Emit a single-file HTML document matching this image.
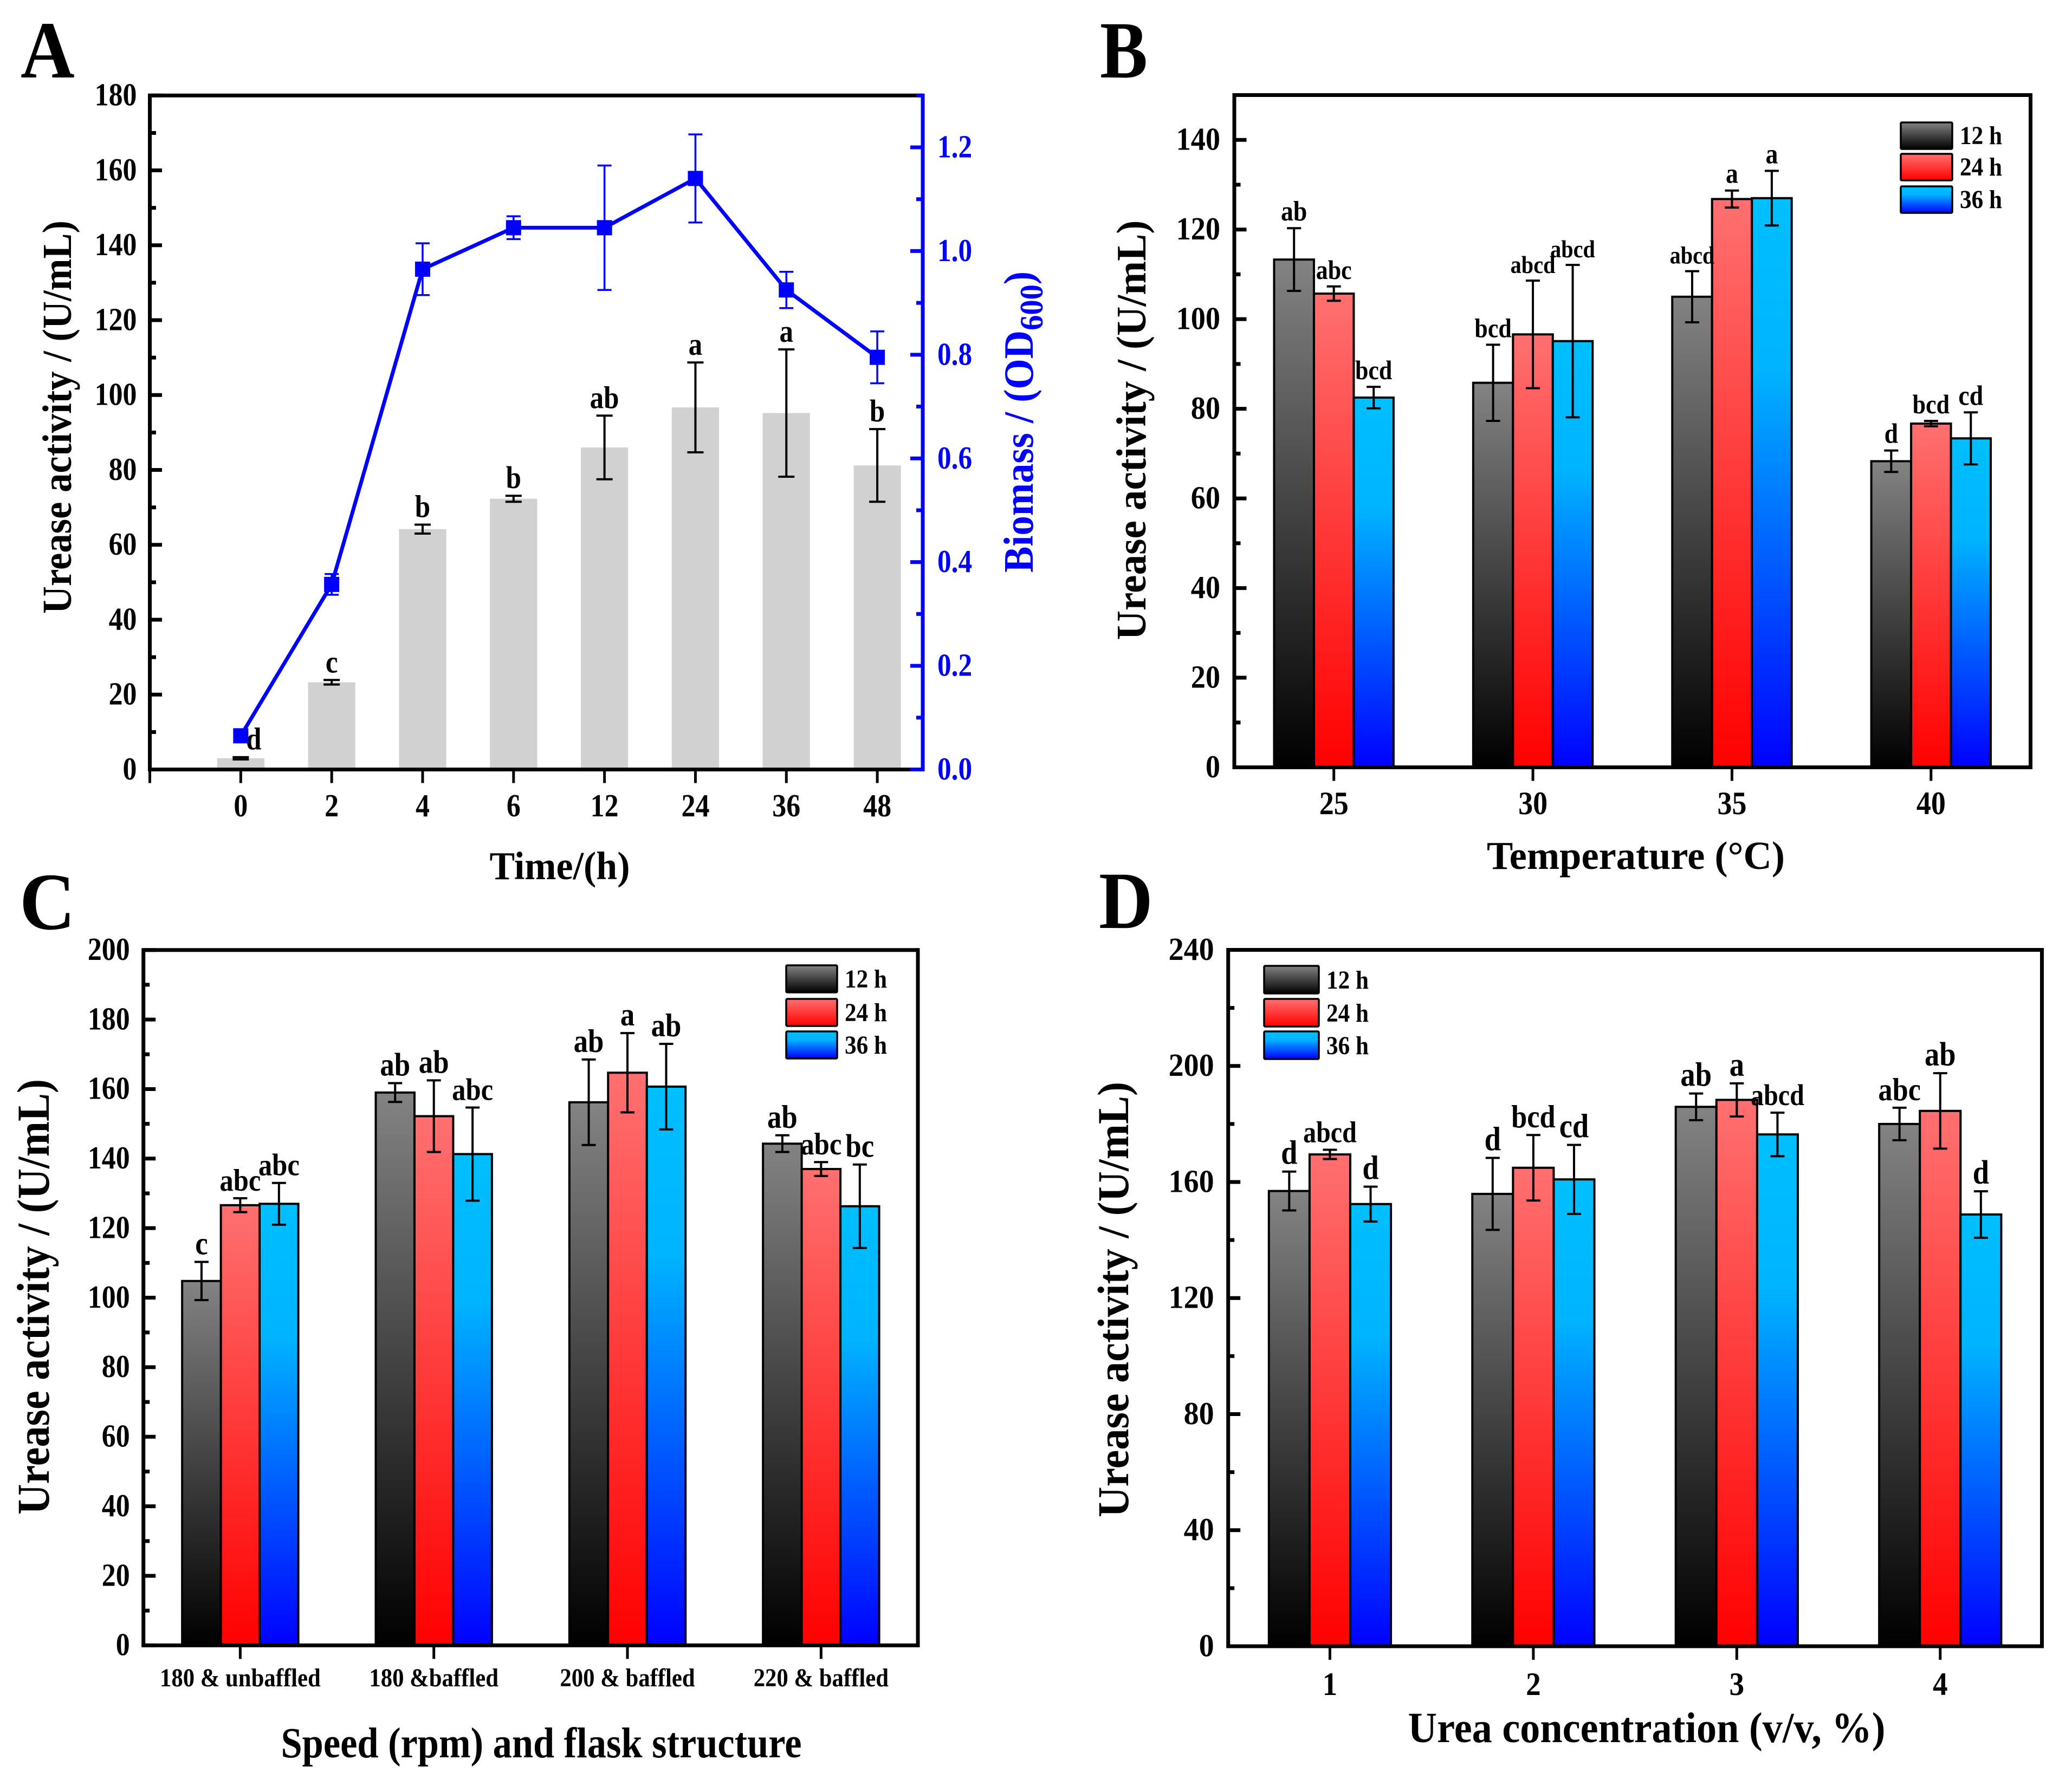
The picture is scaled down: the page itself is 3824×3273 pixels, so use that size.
<!DOCTYPE html>
<html lang="en">
<head>
<meta charset="utf-8">
<title>Urease activity and biomass charts</title>
<style>
html,body{margin:0;padding:0;background:#fff;}
svg{display:block;}
text{font-family:"Liberation Serif",serif;font-weight:bold;fill:#000;}
.blue{fill:#0000ff;}
</style>
</head>
<body>
<svg id="figure" xmlns="http://www.w3.org/2000/svg" width="3824" height="3273" viewBox="0 0 3824 3273">
<defs>
<linearGradient id="g12" x1="0" y1="0" x2="0" y2="1"><stop offset="0" stop-color="#838383"/><stop offset="1" stop-color="#000000"/></linearGradient>
<linearGradient id="g24" x1="0" y1="0" x2="0" y2="1"><stop offset="0" stop-color="#ff7070"/><stop offset="1" stop-color="#ff0000"/></linearGradient>
<linearGradient id="g36" x1="0" y1="0" x2="0" y2="1"><stop offset="0" stop-color="#00bfff"/><stop offset="0.3" stop-color="#00b4ff"/><stop offset="1" stop-color="#0000ff"/></linearGradient>
</defs>
<rect width="3824" height="3273" fill="#fff"/>

<g id="panel-a">
<text transform="translate(38,143) scale(0.92,1)" font-size="150">A</text>
<text transform="translate(131,770) rotate(-90)" text-anchor="middle" font-size="76" textLength="726" lengthAdjust="spacingAndGlyphs">Urease activity / (U/mL)</text>
<text x="1033" y="1623" text-anchor="middle" font-size="73" textLength="259" lengthAdjust="spacingAndGlyphs">Time/(h)</text>
<text class="blue" transform="translate(1906,779) rotate(-90)" text-anchor="middle" font-size="77" textLength="556" lengthAdjust="spacingAndGlyphs">Biomass / (OD<tspan font-size="60" dy="18">600</tspan><tspan dy="-18">)</tspan></text>
</g>

<g id="panel-b">
<text transform="translate(2030,143) scale(0.88,1)" font-size="150">B</text>
<text transform="translate(2114,794) rotate(-90)" text-anchor="middle" font-size="77" textLength="775" lengthAdjust="spacingAndGlyphs">Urease activity / (U/mL)</text>
<text x="3019" y="1604" text-anchor="middle" font-size="73" textLength="550" lengthAdjust="spacingAndGlyphs">Temperature (°C)</text>
</g>

<g id="panel-c">
<text transform="translate(36,1715) scale(0.95,1)" font-size="150">C</text>
<text transform="translate(90,2394) rotate(-90)" text-anchor="middle" font-size="85" textLength="804" lengthAdjust="spacingAndGlyphs">Urease activity / (U/mL)</text>
<text x="999" y="3244" text-anchor="middle" font-size="79" textLength="961" lengthAdjust="spacingAndGlyphs">Speed (rpm) and flask structure</text>
</g>

<g id="panel-d">
<text transform="translate(2028,1713) scale(0.92,1)" font-size="150">D</text>
<text transform="translate(2082,2399) rotate(-90)" text-anchor="middle" font-size="82" textLength="804" lengthAdjust="spacingAndGlyphs">Urease activity / (U/mL)</text>
<text x="3039" y="3216" text-anchor="middle" font-size="79" textLength="881" lengthAdjust="spacingAndGlyphs">Urea concentration (v/v, %)</text>
</g>
</svg>

<script>
// ---------- Panel A data ----------
const aCategories = ['0', '2', '4', '6', '12', '24', '36', '48'];
const aActivity = [3, 23.3, 64.2, 72.3, 86, 96.7, 95.2, 81.2];
const aActivityErr = [0.3, 0.6, 1.2, 0.8, 8.5, 12, 17, 9.7];
const aLetters = ['d', 'c', 'b', 'b', 'ab', 'a', 'a', 'b'];
const aBiomass = [0.065, 0.357, 0.965, 1.045, 1.045, 1.14, 0.925, 0.795];
const aBiomassErr = [0, 0.02, 0.05, 0.022, 0.12, 0.085, 0.035, 0.05];
const aYTicks = [0, 20, 40, 60, 80, 100, 120, 140, 160, 180];
const aRightTicks = ['0.0', '0.2', '0.4', '0.6', '0.8', '1.0', '1.2'];

// ---------- Panel B data ----------
const bCategories = ['25', '30', '35', '40'];
const bValues12 = [113.3, 85.8, 105, 68.3];
const bValues24 = [105.7, 96.6, 126.8, 76.7];
const bValues36 = [82.5, 95.1, 127, 73.4];
const bErr12 = [7, 8.5, 5.7, 2.4];
const bErr24 = [1.6, 12, 1.9, 0.6];
const bErr36 = [2.4, 17, 6.1, 5.8];
const bLetters12 = ['ab', 'bcd', 'abcd', 'd'];
const bLetters24 = ['abc', 'abcd', 'a', 'bcd'];
const bLetters36 = ['bcd', 'abcd', 'a', 'cd'];
const bYTicks = [0, 20, 40, 60, 80, 100, 120, 140];

// ---------- Panel C data ----------
const cCategories = ['180 & unbaffled', '180 &baffled', '200 & baffled', '220 & baffled'];
const cValues12 = [104.8, 159, 156.2, 144.3];
const cValues24 = [126.6, 152.2, 164.7, 137];
const cValues36 = [127, 141.3, 160.7, 126.3];
const cErr12 = [5.5, 2.7, 12.3, 2.4];
const cErr24 = [2, 10.3, 11.4, 2];
const cErr36 = [6, 13.4, 12.3, 12];
const cLetters12 = ['c', 'ab', 'ab', 'ab'];
const cLetters24 = ['abc', 'ab', 'a', 'abc'];
const cLetters36 = ['abc', 'abc', 'ab', 'bc'];
const cYTicks = [0, 20, 40, 60, 80, 100, 120, 140, 160, 180, 200];

// ---------- Panel D data ----------
const dCategories = ['1', '2', '3', '4'];
const dValues12 = [156.9, 155.9, 185.9, 180];
const dValues24 = [169.5, 164.9, 188.3, 184.5];
const dValues36 = [152.4, 160.9, 176.4, 148.8];
const dErr12 = [6.7, 12.4, 4.6, 5.6];
const dErr24 = [1.6, 11.3, 5.7, 13];
const dErr36 = [6, 11.9, 7.5, 8];
const dLetters12 = ['d', 'd', 'ab', 'abc'];
const dLetters24 = ['abcd', 'bcd', 'a', 'ab'];
const dLetters36 = ['d', 'cd', 'abcd', 'd'];
const dYTicks = [0, 40, 80, 120, 160, 200, 240];

const legendLabels = ['12 h', '24 h', '36 h'];
const NS = 'http://www.w3.org/2000/svg';

function mk(parent, tag, attrs) {
  const node = document.createElementNS(NS, tag);
  for (const key in attrs) node.setAttribute(key, attrs[key]);
  parent.appendChild(node);
  return node;
}
function placeText(node, x, y, sx) {
  node.setAttribute('transform', 'translate(' + x + ',' + y + ') scale(' + sx + ',1)');
}
function letterSize(word, base) {
  if (word.length >= 4) return base * 0.88;
  if (word.length === 3) return base * 0.96;
  return base;
}

function drawYAxis(root, p, ticks, minorStep) {
  const y = function (v) { return p.bottom - v / p.max * (p.bottom - p.top); };
  ticks.forEach(function (t) {
    const tick = mk(root, 'line', {x1: p.left, x2: p.left + 22.5, y1: y(t), y2: y(t), stroke: '#000', 'stroke-width': 7});
    
    
    const label = mk(root, 'text', {'font-size': p.tickSize, 'text-anchor': 'end'});
    
    
    label.textContent = t;
    placeText(label, p.left - p.tickGap, y(t) + p.tickSize * 0.31, p.tickSx);
  });
  for (let v = minorStep; v < p.max; v += minorStep * 2) {
    const minor = mk(root, 'line', {x1: p.left, x2: p.left + 11.5, y1: y(v), y2: y(v), stroke: '#000', 'stroke-width': 7});
    
    
  }
}

function drawXTicks(root, p, categories, xOf) {
  categories.forEach(function (c, i) {
    const tick = mk(root, 'line', {x1: xOf(i), x2: xOf(i), y1: p.bottom, y2: p.bottom + 25, stroke: '#000', 'stroke-width': 5});
    
    
    const label = mk(root, 'text', {'font-size': p.xSize, 'text-anchor': 'middle'});
    
    
    label.textContent = c;
    placeText(label, xOf(i), p.xBase, p.xSx);
  });
}

function drawFrame(root, p, rightColor) {
  const frame = mk(root, 'path', {
    d: 'M' + p.left + ' ' + p.bottom + 'V' + p.top + 'H' + p.right,
    fill: 'none', stroke: '#000', 'stroke-width': 7
  });
  
  
  const base = mk(root, 'line', {x1: p.left - 3.5, x2: p.right, y1: p.bottom, y2: p.bottom, stroke: '#000', 'stroke-width': 7});
  
  
  const side = mk(root, 'line', {x1: p.right, x2: p.right, y1: p.top - 3.5, y2: p.bottom + 3.5, stroke: rightColor, 'stroke-width': 7});
  
  
}

function drawLegend(root, l) {
  legendLabels.forEach(function (name, i) {
    const box = mk(root, 'rect', {
      x: l.x, y: l.ys[i], width: l.w, height: l.h, rx: 2,
      fill: 'url(#g' + name.slice(0, 2) + ')', stroke: '#000', 'stroke-width': 3.5
    });
    
    
    const label = mk(root, 'text', {'font-size': 48});
    
    
    label.textContent = name;
    placeText(label, l.x + l.w + 14, l.ys[i] + l.h - 9, 0.9);
  });
}

function drawGrouped(id, p, categories, seriesValues, seriesErr, seriesLetters, yTicks, minorStep, legend) {
  const root = document.getElementById(id);
  const spacing = (p.right - p.left) / categories.length;
  const barW = spacing * 0.2;
  const xOf = function (i) { return p.left + spacing * (i + 0.5); };
  const y = function (v) { return p.bottom - v / p.max * (p.bottom - p.top); };
  const fills = ['url(#g12)', 'url(#g24)', 'url(#g36)'];
  seriesValues.forEach(function (values, s) {
    values.forEach(function (v, i) {
      const cx = xOf(i) + (s - 1) * barW;
      const bar = mk(root, 'rect', {
        x: cx - barW / 2, y: y(v), width: barW, height: p.bottom - y(v),
        fill: fills[s], stroke: '#000', 'stroke-width': 4
      });
      
      
    });
  });
  seriesValues.forEach(function (values, s) {
    values.forEach(function (v, i) {
      const cx = xOf(i) + (s - 1) * barW;
      const e = seriesErr[s][i];
      const top = y(v + e);
      const low = y(v - e);
      const err = mk(root, 'path', {
        d: 'M' + (cx - 13) + ' ' + top + 'H' + (cx + 13) + 'M' + cx + ' ' + top + 'V' + low + 'M' + (cx - 13) + ' ' + low + 'H' + (cx + 13),
        fill: 'none', stroke: '#000', 'stroke-width': 4
      });
      
      
      const word = seriesLetters[s][i];
      const letter = mk(root, 'text', {'font-size': letterSize(word, p.letterSize), 'text-anchor': 'middle'});
      
      
      letter.textContent = word;
      placeText(letter, cx, top - 14, 0.88);
    });
  });
  drawYAxis(root, p, yTicks, minorStep);
  drawXTicks(root, p, categories, xOf);
  drawFrame(root, p, '#000');
  drawLegend(root, legend);
}

function drawPanelA() {
  const root = document.getElementById('panel-a');
  const p = {left: 276.5, right: 1703, top: 176.3, bottom: 1420.5, max: 180, tickSize: 59, tickGap: 24, tickSx: 0.88, xSize: 59, xBase: 1507, xSx: 0.88};
  const rightMax = 1.3;
  const spacing = (p.right - p.left) / 8.5;
  const xOf = function (i) { return p.left + spacing * (i + 1); };
  const y = function (v) { return p.bottom - v / p.max * (p.bottom - p.top); };
  const yr = function (v) { return p.bottom - v / rightMax * (p.bottom - p.top); };
  const barW = spacing * 0.52;

  aActivity.forEach(function (v, i) {
    const bar = mk(root, 'rect', {x: xOf(i) - barW / 2, y: y(v), width: barW, height: p.bottom - y(v), fill: '#d1d1d1'});
    
    
    const e = aActivityErr[i];
    const top = y(v + e);
    const low = y(v - e);
    const err = mk(root, 'path', {
      d: 'M' + (xOf(i) - 15) + ' ' + top + 'H' + (xOf(i) + 15) + 'M' + xOf(i) + ' ' + top + 'V' + low + 'M' + (xOf(i) - 15) + ' ' + low + 'H' + (xOf(i) + 15),
      fill: 'none', stroke: '#000', 'stroke-width': 4
    });
    
    
    const nudge = i === 0 ? 24 : 0;
    const letter = mk(root, 'text', {'font-size': 58, 'text-anchor': 'middle'});
    
    
    letter.textContent = aLetters[i];
    placeText(letter, xOf(i) + nudge, top - 14, 0.88);
  });

  drawYAxis(root, p, aYTicks, 10);
  drawXTicks(root, p, aCategories, xOf);
  const endTick = mk(root, 'line', {x1: p.left, x2: p.left, y1: p.bottom, y2: p.bottom + 25, stroke: '#000', 'stroke-width': 5});
  
  
  drawFrame(root, p, '#0000ff');

  aRightTicks.forEach(function (t) {
    const v = parseFloat(t);
    const tick = mk(root, 'line', {x1: p.right - 23, x2: p.right, y1: yr(v), y2: yr(v), stroke: '#0000ff', 'stroke-width': 7});
    
    
    const label = mk(root, 'text', {'font-size': 59, class: 'blue'});
    
    
    label.textContent = t;
    placeText(label, p.right + 27, yr(v) + 18.5, 0.87);
    const minor = mk(root, 'line', {x1: p.right - 12, x2: p.right, y1: yr(v + 0.1), y2: yr(v + 0.1), stroke: '#0000ff', 'stroke-width': 7});
    
    
  });

  let points = '';
  aBiomass.forEach(function (v, i) { points += xOf(i) + ',' + yr(v) + ' '; });
  const line = mk(root, 'polyline', {points: points, fill: 'none', stroke: '#0000ff', 'stroke-width': 7});
  
  

  aBiomass.forEach(function (v, i) {
    const e = aBiomassErr[i];
    const top = yr(v + e);
    const low = yr(v - e);
    const err = mk(root, 'path', {
      d: 'M' + (xOf(i) - 13) + ' ' + top + 'H' + (xOf(i) + 13) + 'M' + xOf(i) + ' ' + top + 'V' + low + 'M' + (xOf(i) - 13) + ' ' + low + 'H' + (xOf(i) + 13),
      fill: 'none', stroke: '#0000ff', 'stroke-width': 3.5
    });
    
    
    const marker = mk(root, 'rect', {x: xOf(i) - 14, y: yr(v) - 14, width: 28, height: 28, fill: '#0000ff'});
    
    
  });
}

drawPanelA();

drawGrouped('panel-b',
  {left: 2278, right: 3747.5, top: 175.5, bottom: 1416.5, max: 150, tickSize: 59, tickGap: 26, tickSx: 0.92, xSize: 60, xBase: 1503, xSx: 0.9, letterSize: 52},
  bCategories, [bValues12, bValues24, bValues36], [bErr12, bErr24, bErr36], [bLetters12, bLetters24, bLetters36],
  bYTicks, 10,
  {x: 3508, w: 95, h: 49, ys: [226, 284, 344]});

drawGrouped('panel-c',
  {left: 264.7, right: 1694, top: 1753.7, bottom: 3037.4, max: 200, tickSize: 59, tickGap: 25, tickSx: 0.88, xSize: 47.5, xBase: 3113, xSx: 0.9, letterSize: 60},
  cCategories, [cValues12, cValues24, cValues36], [cErr12, cErr24, cErr36], [cLetters12, cLetters24, cLetters36],
  cYTicks, 10,
  {x: 1451, w: 94, h: 50, ys: [1782, 1844, 1904]});

drawGrouped('panel-d',
  {left: 2266.7, right: 3768.5, top: 1753.5, bottom: 3039, max: 240, tickSize: 59, tickGap: 26, tickSx: 0.95, xSize: 60, xBase: 3129, xSx: 0.92, letterSize: 62},
  dCategories, [dValues12, dValues24, dValues36], [dErr12, dErr24, dErr36], [dLetters12, dLetters24, dLetters36],
  dYTicks, 20,
  {x: 2333, w: 101, h: 51, ys: [1783, 1844, 1904]});
</script>
</body>
</html>
